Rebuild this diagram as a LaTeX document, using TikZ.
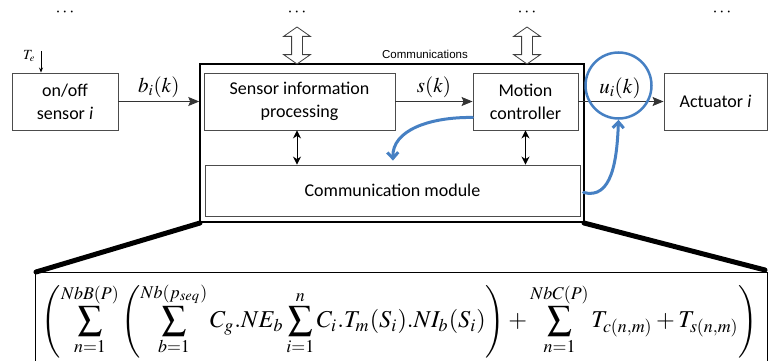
\documentclass[tikz,border=0pt]{standalone}
\usepackage{mathptmx}
\usepackage[no-math]{fontspec}
\setsansfont{Carlito}
\newfontfamily\arialfont{Liberation Sans}
\usepackage{graphicx}
\usetikzlibrary{arrows.meta,shapes.arrows,calc}
\definecolor{myblue}{RGB}{70,128,195}
\begin{document}
\begin{tikzpicture}[x=1pt,y=-1pt,
  box/.style={draw=black!70, line width=0.9pt, fill=white, align=center, inner sep=0pt,
    font=\sffamily\fontsize{18}{23}\selectfont},
  sig/.style={draw=black!80, line width=0.9pt, -{Stealth[length=11pt,width=9pt,inset=2pt]}},
  dbl/.style={draw=black, line width=0.9pt, {Stealth[length=8pt,width=8pt]}-{Stealth[length=8pt,width=8pt]}},
  hollow/.style={double arrow, draw=black!75, line width=0.8pt, fill=white, rotate=90,
    minimum height=37pt, inner sep=5pt, double arrow head extend=8pt, double arrow tip angle=110},
  mlab/.style={font=\fontsize{21}{24}\selectfont, inner sep=1pt},
  dots/.style={font=\fontsize{18}{20}\selectfont},
  blue/.style={draw=myblue, line width=3pt, line cap=round},
  thick/.style={line width=5pt, line cap=round}
]
\useasboundingbox (0,0) rectangle (768,361);
\begin{scope}
\clip (0,0) rectangle (768,361);
% zoom lines and formula box
\draw[thick] (200,223) -- (36,272);
\draw[thick] (584,223) -- (765,270);
\node[draw=black, line width=1.2pt, minimum width=732pt, minimum height=120pt, inner sep=0pt, anchor=north west] (fbox) at (35,272) {};
\node (formula) at (400,320) {\resizebox{716pt}{!}{$\displaystyle
 \left(\sum_{n=1}^{NbB(P)}\left(\sum_{b=1}^{Nb(p_{seq})} C_g.NE_b\sum_{i=1}^{n} C_i.T_m(S_i).NI_b(S_i)\right)+\sum_{n=1}^{NbC(P)} T_{c(n,m)}+T_{s(n,m)}\right)$}};

% big box
\node[draw=black, line width=1.5pt, minimum width=384pt, minimum height=158pt, inner sep=0pt] (big) at (392,143) {};
\node[box, minimum width=106pt, minimum height=57pt] (sensor) at (65,101.5) {on/off\\sensor \textit{i}};
\node[box, minimum width=191pt, minimum height=57pt] (sip) at (299.5,101.5) {Sensor information\\processing};
\node[box, minimum width=105pt, minimum height=57pt] (mc) at (525.5,101.5) {Motion\\controller};
\node[box, minimum width=103pt, minimum height=57pt] (act) at (715.5,101.5) {Actuator \textit{i}};
\node[box, minimum width=375pt, minimum height=51pt] (comm) at (392.5,190.5) {Communication module};

\node[font=\arialfont\fontsize{11.5}{13}\selectfont] (ctext) at (425,54) {Communications};

% hollow arrows
\node[hollow] (h1) at (297,45.5) {};
\node[hollow] (h2) at (527,45.5) {};

% dots
\node[dots] (d1) at (65,13) {$\cdots$};
\node[dots] (d2) at (297,13) {$\cdots$};
\node[dots] (d3) at (527,13) {$\cdots$};
\node[dots] (d4) at (722,13) {$\cdots$};

% T_e
\coordinate (te) at (41,51);
\node[font=\fontsize{14}{16}\selectfont, inner sep=0pt] (telab) at (29,56) {$T_e$};
\draw[draw=black, line width=0.8pt, -{Stealth[length=5pt,width=4pt]}] (te) -- (te |- sensor.north);

% signal arrows
\draw[sig] (sensor.east) -- node[mlab, above=2pt] {$b_i(k)$} (sensor.east -| big.west);
\draw[sig] (sip.east) -- node[mlab, above=2pt] {$s(k)$} (mc.west);
\coordinate (ulab) at (620,88);
\draw[sig] (mc.east) -- (act.west);
\node[mlab] (ul) at (ulab) {$u_i(k)$};

% small double arrows
\draw[dbl] ([xshift=-2.5pt]sip.south) -- ([xshift=-2.5pt]sip.south |- comm.north);
\draw[dbl] (mc.south) -- (mc.south |- comm.north);

% blue highlights
\node[draw=myblue, line width=2.5pt, circle, minimum size=66pt, inner sep=0pt] (circ) at (618.5,85.5) {};
\coordinate (mcstart) at ($(mc.south west)+(0,-13)$);
\coordinate (commtop) at ($(comm.north)+(0.5,-4)$);
\draw[blue, -{Straight Barb[length=6pt,width=11pt,line width=3pt]}] (mcstart) .. controls (430,117) and (392,130) .. (commtop);
\coordinate (commright) at ($(comm.east)+(3,2)$);
\draw[blue, -{Straight Barb[length=6pt,width=11pt,line width=3pt]}] (commright) .. controls (612,200) and (617,160) .. (circ.south);
\end{scope}
\end{tikzpicture}
\end{document}
